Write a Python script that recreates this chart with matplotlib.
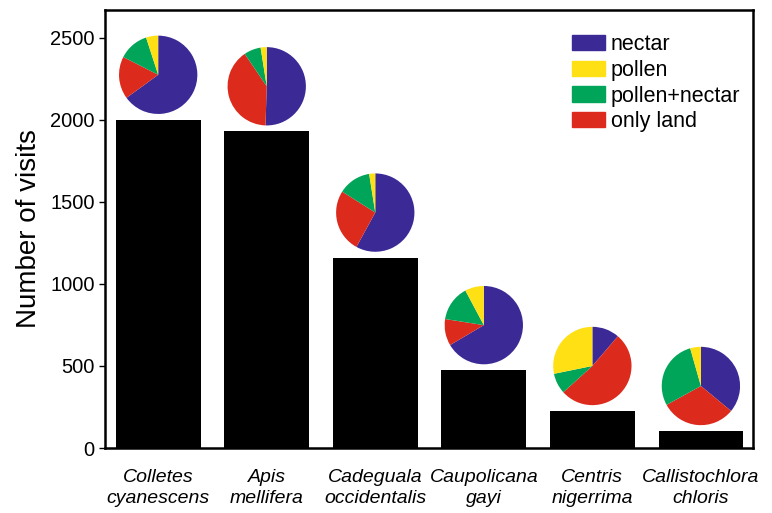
import matplotlib.pyplot as plt
from matplotlib.patches import Patch

plt.rcParams['font.family'] = ['Liberation Sans', 'DejaVu Sans']

species = ['Colletes\ncyanescens', 'Apis\nmellifera', 'Cadeguala\noccidentalis',
           'Caupolicana\ngayi', 'Centris\nnigerrima', 'Callistochlora\nchloris']
visits = [2000, 1930, 1160, 474, 225, 103]

# resource shares per species: nectar, only land, pollen+nectar, pollen (clockwise from top)
nectar = [65, 50.5, 58, 66.5, 11.3, 36]
only_land = [17.5, 40, 26, 11, 52, 31]
pollen_nectar = [12.5, 7, 13.5, 14.7, 8.5, 28.6]
pollen = [5, 2.5, 2.5, 7.8, 28.2, 4.4]

c_nectar = '#3b2a96'
c_pollen = '#ffe015'
c_pn = '#00a55a'
c_land = '#dc2a1c'

fig = plt.figure(figsize=(7.72, 5.13), dpi=100)
ax = fig.add_axes([105 / 772, 1 - 448 / 513, 648 / 772, 438 / 513])

x = list(range(len(species)))
ax.bar(x, visits, width=0.78, color='black')
ax.set_xlim(-0.49, 5.48)
ax.set_ylim(0, 2670)
ax.set_yticks([0, 500, 1000, 1500, 2000, 2500])
ax.tick_params(axis='y', labelsize=14.5, direction='out', length=4, width=1)
ax.tick_params(axis='x', length=0, pad=15)
ax.set_xticks(x)
ax.set_xticklabels(species, fontsize=14, style='italic', linespacing=1.35)
ax.set_ylabel('Number of visits', fontsize=20, labelpad=6)
for s in ax.spines.values():
    s.set_linewidth(1.8)

# pies on top of bars
pie_w = 0.74
pie_h = 487
for i in range(len(species)):
    cy = visits[i] + 275
    pax = ax.inset_axes([i - pie_w / 2, cy - pie_h / 2, pie_w, pie_h], transform=ax.transData)
    pax.pie([nectar[i], only_land[i], pollen_nectar[i], pollen[i]],
            colors=[c_nectar, c_land, c_pn, c_pollen], startangle=90, counterclock=False,
            radius=1)
    pax.set_xlim(-1.02, 1.02)
    pax.set_ylim(-1.02, 1.02)
    pax.set_aspect('equal')

handles = [Patch(color=c_nectar, label='nectar'), Patch(color=c_pollen, label='pollen'),
           Patch(color=c_pn, label='pollen+nectar'), Patch(color=c_land, label='only land')]
ax.legend(handles=handles, loc='upper left', frameon=False, fontsize=15.5,
          handlelength=1.55, handleheight=0.7, handletextpad=0.25, labelspacing=0.22,
          borderpad=0, borderaxespad=0, bbox_to_anchor=(0.7207, 0.945))

fig.savefig('out.png', dpi=100)
